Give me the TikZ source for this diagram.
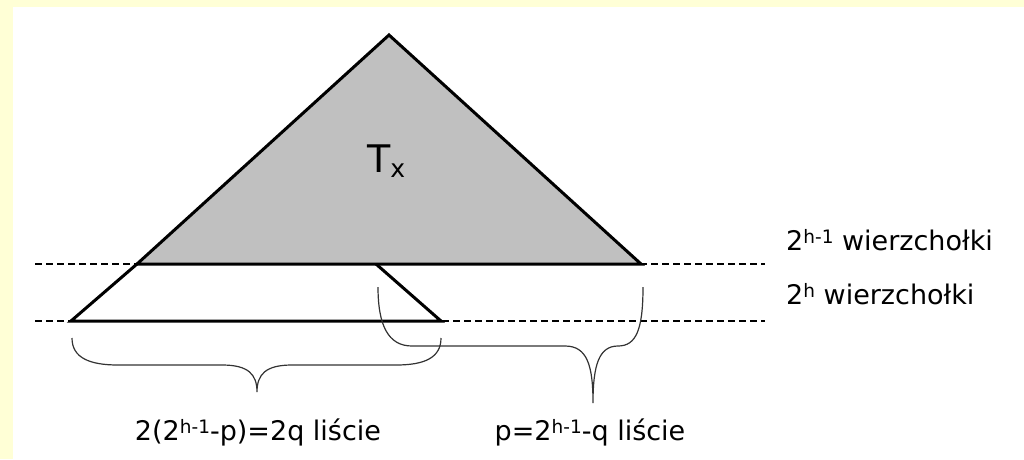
\documentclass[tikz,border=0pt]{standalone}
\usepackage{fontspec}
\setmainfont{DejaVu Sans}
\definecolor{bgyellow}{HTML}{FFFFD6}
\definecolor{trigray}{HTML}{C0C0C0}
\definecolor{bracegray}{HTML}{333333}
\newcommand\supx[1]{\raisebox{7pt}{\fontsize{18.5}{20}\selectfont #1}}
\begin{document}
\begin{tikzpicture}[x=1pt,y=-1pt,
  tri/.style={line width=3pt,line join=miter,draw=black},
  dashline/.style={line width=1.3pt,dash pattern=on 7pt off 4pt,draw=black},
  bracecurve/.style={line width=1.2pt,draw=bracegray},
  lbl/.style={font=\fontsize{27}{32}\selectfont,inner sep=0pt}]
\fill[bgyellow] (0,0) rectangle (1024,459);
\fill[white] (13,7) rectangle (1024,459);
\useasboundingbox (0,0) rectangle (1024,459);
% coordinates
\coordinate (apex) at (389,35);
\coordinate (bl) at (137,264);
\coordinate (br) at (641,264);
\coordinate (mid) at (376,264);
\coordinate (ll) at (71,321);
\coordinate (lr) at (441,321);
\coordinate (d1a) at (35,264);
\coordinate (d1b) at (765,264);
\coordinate (d2a) at (35,321);
\coordinate (d2b) at (765,321);
% dashed levels
\draw[dashline] (d1a) -- (d1b);
\draw[dashline] (d2a) -- (d2b);
% triangle and trapezoid
\filldraw[tri,fill=trigray] (apex) -- (br) -- (bl) -- cycle;
\draw[tri] (bl) -- (ll) -- (lr) -- (mid);
% left brace
\coordinate (lbA) at (72,338);
\coordinate (lbT) at (257,392);
\coordinate (lbB) at (441,338);
\draw[bracecurve] (lbA) .. controls (72,358) and (90,365) .. (118,365)
  -- (222,365) .. controls (248,365) and (257,374) .. (lbT)
  .. controls (257,374) and (266,365) .. (292,365)
  -- (396,365) .. controls (424,365) and (441,358) .. (lbB);
% right brace
\coordinate (rbA) at (378,287);
\coordinate (rbT) at (593,403);
\coordinate (rbB) at (643,287);
\draw[bracecurve] (rbA) .. controls (378,325) and (388,346) .. (412,346)
  -- (565,346) .. controls (587,346) and (593,365) .. (rbT)
  .. controls (593,365) and (599,346) .. (618,346)
  .. controls (636,346) and (643,330) .. (rbB);
% labels
\node[lbl,font=\fontsize{38}{44}\selectfont,anchor=base west] (tx) at (367,172) {T\raisebox{-5pt}{\fontsize{25}{28}\selectfont x}};
\node[lbl,anchor=base west] (lv1) at (786,250) {2\supx{h-1} wierzchołki};
\node[lbl,anchor=base west] (lv2) at (786,304) {2\supx{h} wierzchołki};
\node[lbl,anchor=base] (ltl) at (258,440) {2(2\supx{h-1}-p)=2q liście};
\node[lbl,anchor=base] (ltr) at (590,440) {p=2\supx{h-1}-q liście};
\end{tikzpicture}
\end{document}
